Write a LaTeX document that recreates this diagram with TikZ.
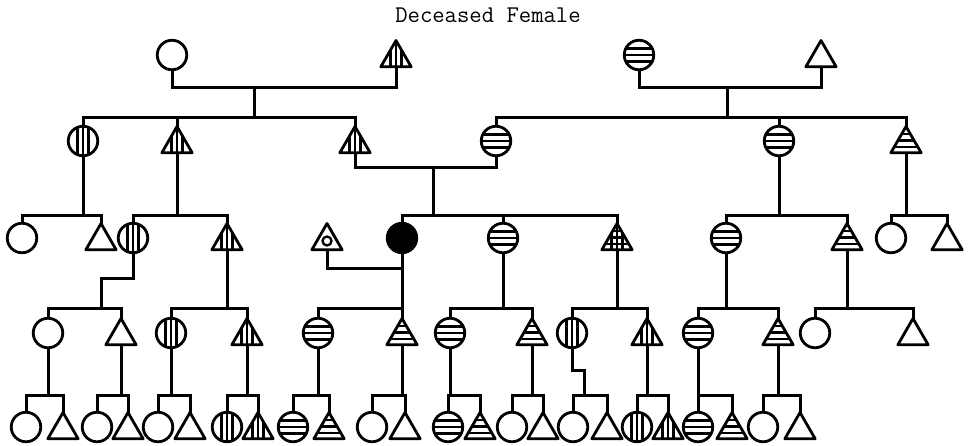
\documentclass[tikz,border=0pt]{standalone}
\usepackage{fontspec}
\usetikzlibrary{shapes.geometric}
\tikzset{
  conn/.style={line width=3pt},
  fem/.style={circle, draw, line width=2.8pt, minimum size=29.5pt, inner sep=0pt, outer sep=0pt},
  mal/.style={regular polygon, regular polygon sides=3, draw, line width=2.8pt, line join=round, minimum size=35pt, inner sep=0pt, outer sep=0pt},
  stripe/.style={line width=2.5pt},
  titlefont/.style={font=\ttfamily\fontsize{24}{24}\selectfont}
}
% patterns: #1 node name, #2 = 0 circle / 1 triangle
\newcommand\patO[2]{}
\newcommand\patV[2]{\foreach \dd in {-5.5,0,5.5}{\draw[stripe] ([xshift=\dd pt]#1.center) ++(0,-22) -- ++(0,44);}}
\newcommand\patH[2]{\ifnum#2=0
  \foreach \dd in {-6.5,0,6.5}{\draw[stripe] ([yshift=\dd pt]#1.center) ++(-22,0) -- ++(44,0);}%
  \else
  \foreach \dd in {-3,3.5,10}{\draw[stripe] ([yshift=\dd pt]#1.center) ++(-22,0) -- ++(44,0);}%
  \fi}
\newcommand\patX[2]{\patV{#1}{#2}\patH{#1}{#2}}
\newcommand\patB[2]{\fill (#1.center) circle (16pt);}
\newcommand\patD[2]{\draw[line width=2.3pt] (#1.center) circle (4.5pt);}
\newcommand\Fem[4]{%
  \node[fem] (#1) at (#2,#3) {};
  \begin{scope}\clip (#1.center) circle (14.5pt); \csname pat#4\endcsname{#1}{0}\end{scope}}
\newcommand\Mal[4]{%
  \node[mal] (#1) at (#2,#3+3) {};
  \begin{scope}\clip (#1.corner 1)--(#1.corner 2)--(#1.corner 3)--cycle; \csname pat#4\endcsname{#1}{1}\end{scope}}
% family: parent, junction name, x, y, child1, child2
\newcommand\Fam[6]{%
  \coordinate (#2) at (#3,#4);
  \draw[conn] (#1.south) -- (#2);
  \draw[conn] (#5.north) |- (#2) -| (#6.north);}
\begin{document}
\begin{tikzpicture}[x=1pt,y=-1pt]
\useasboundingbox (0,0) rectangle (968,445);
\node[titlefont] (title) at (488,15) {Deceased Female};
% generation 1
\Fem{g1a}{172}{55}{O}
\Mal{g1b}{396}{55}{V}
\Fem{g1c}{639}{55}{H}
\Mal{g1d}{821}{55}{O}
% generation 2
\Fem{g2a}{83}{141}{V}
\Mal{g2b}{177}{141}{V}
\Mal{g2c}{355}{141}{V}
\Fem{g2d}{496}{141}{H}
\Fem{g2e}{779}{141}{H}
\Mal{g2f}{906}{141}{H}
% generation 3
\Fem{g3a}{22}{238}{O}
\Mal{g3b}{101}{238}{O}
\Fem{g3c}{133}{238}{V}
\Mal{g3d}{227}{238}{V}
\Mal{g3e}{327}{238}{D}
\Fem{g3f}{402}{238}{B}
\Fem{g3g}{503}{238}{H}
\Mal{g3h}{617}{238}{X}
\Fem{g3i}{726}{238}{H}
\Mal{g3j}{847}{238}{H}
\Fem{g3k}{891}{238}{O}
\Mal{g3l}{947}{238}{O}
% generation 4
\Fem{g4a}{48}{333}{O}
\Mal{g4b}{121}{333}{O}
\Fem{g4c}{171}{333}{V}
\Mal{g4d}{247}{333}{V}
\Fem{g4e}{318}{333}{H}
\Mal{g4f}{402}{333}{H}
\Fem{g4g}{450}{333}{H}
\Mal{g4h}{532}{333}{H}
\Fem{g4i}{572}{333}{V}
\Mal{g4j}{647}{333}{V}
\Fem{g4k}{698}{333}{H}
\Mal{g4l}{778}{333}{H}
\Fem{g4m}{815}{333}{O}
\Mal{g4n}{913}{333}{O}
% generation 5
\Fem{g5a}{26}{427}{O}
\Mal{g5b}{63}{427}{O}
\Fem{g5c}{97}{427}{O}
\Mal{g5d}{128}{427}{O}
\Fem{g5e}{158}{427}{O}
\Mal{g5f}{190}{427}{O}
\Fem{g5g}{227}{427}{V}
\Mal{g5h}{258}{427}{V}
\Fem{g5i}{293}{427}{H}
\Mal{g5j}{329}{427}{H}
\Fem{g5k}{372}{427}{O}
\Mal{g5l}{405}{427}{O}
\Fem{g5m}{448}{427}{H}
\Mal{g5n}{480}{427}{H}
\Fem{g5o}{512}{427}{O}
\Mal{g5p}{543}{427}{O}
\Fem{g5q}{573}{427}{O}
\Mal{g5r}{607}{427}{O}
\Fem{g5s}{637}{427}{V}
\Mal{g5t}{668}{427}{V}
\Fem{g5u}{698}{427}{H}
\Mal{g5v}{732}{427}{H}
\Fem{g5w}{763}{427}{O}
\Mal{g5x}{800}{427}{O}
% couples of generation 1
\coordinate (c1) at (254,87);
\coordinate (c2) at (727,87);
\coordinate (s2a) at (254,117);
\coordinate (s2b) at (727,117);
\draw[conn] (g1a.south) |- (c1) -| (g1b.south);
\draw[conn] (g1c.south) |- (c2) -| (g1d.south);
\draw[conn] (c1) -- (s2a);
\draw[conn] (c2) -- (s2b);
\draw[conn] (g2a.north) |- (s2a) -| (g2c.north);
\draw[conn] (g2b.north) -- (g2b.north |- s2a);
\draw[conn] (g2d.north) |- (s2b) -| (g2f.north);
\draw[conn] (g2e.north) -- (g2e.north |- s2b);
% couple of generation 2
\coordinate (c3) at (433,167);
\coordinate (s3c) at (433,215);
\draw[conn] (g2c.south) |- (c3) -| (g2d.south);
\draw[conn] (c3) -- (s3c);
\draw[conn] (g3f.north) |- (s3c) -| (g3h.north);
\draw[conn] (g3g.north) -- (g3g.north |- s3c);
% generation 2 -> 3
\Fam{g2a}{s3a}{83}{215}{g3a}{g3b}
\Fam{g2b}{s3b}{177}{215}{g3c}{g3d}
\Fam{g2e}{s3e}{779}{215}{g3i}{g3j}
\Fam{g2f}{s3f}{906}{215}{g3k}{g3l}
% generation 3 -> 4
\coordinate (j1) at (101,278);
\coordinate (s4a) at (101,308);
\draw[conn] (g3c.south) |- (j1) -- (s4a);
\draw[conn] (g4a.north) |- (s4a) -| (g4b.north);
\Fam{g3d}{s4b}{227}{308}{g4c}{g4d}
\coordinate (m3) at (402,268);
\draw[conn] (g3e.south) |- (m3);
\Fam{g3f}{s4c}{402}{308}{g4e}{g4f}
\Fam{g3g}{s4d}{503}{308}{g4g}{g4h}
\Fam{g3h}{s4e}{617}{308}{g4i}{g4j}
\Fam{g3i}{s4f}{726}{308}{g4k}{g4l}
\Fam{g3j}{s4g}{847}{308}{g4m}{g4n}
% generation 4 -> 5
\Fam{g4a}{s5a}{48}{395}{g5a}{g5b}
\Fam{g4b}{s5b}{121}{395}{g5c}{g5d}
\Fam{g4c}{s5c}{171}{395}{g5e}{g5f}
\Fam{g4d}{s5d}{247}{395}{g5g}{g5h}
\Fam{g4e}{s5e}{318}{395}{g5i}{g5j}
\Fam{g4f}{s5f}{402}{395}{g5k}{g5l}
\Fam{g4g}{s5g}{450}{395}{g5m}{g5n}
\Fam{g4h}{s5h}{532}{395}{g5o}{g5p}
\coordinate (j2) at (584,370);
\coordinate (s5i) at (584,395);
\draw[conn] (g4i.south) |- (j2) -- (s5i);
\draw[conn] (g5q.north) |- (s5i) -| (g5r.north);
\Fam{g4j}{s5j}{647}{395}{g5s}{g5t}
\Fam{g4k}{s5k}{698}{395}{g5u}{g5v}
\Fam{g4l}{s5l}{778}{395}{g5w}{g5x}
\end{tikzpicture}
\end{document}
